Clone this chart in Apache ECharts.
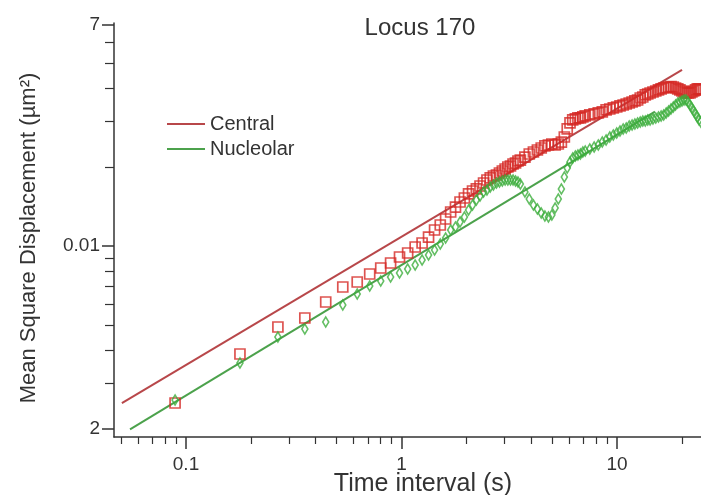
<!DOCTYPE html>
<html><head><meta charset="utf-8">
<script src="https://cdn.jsdelivr.net/npm/echarts@6/dist/echarts.min.js"></script>
<style>html,body{margin:0;padding:0;background:#fff}#c{width:701px;height:495px}</style>
</head><body><div id="c"></div>
<script>
// ---- data ----
const times = [0.089,0.178,0.267,0.356,0.445,0.534,0.623,0.712,0.801,0.890,0.979,1.068,1.157,1.246,1.335,1.424,1.513,1.602,1.691,1.780,1.869,1.958,2.047,2.136,2.225,2.314,2.403,2.492,2.581,2.670,2.759,2.848,2.937,3.026,3.115,3.204,3.293,3.382,3.471,3.560,
3.738,3.916,4.094,4.272,4.450,4.628,4.806,4.984,5.162,5.340,5.518,5.696,5.874,6.052,6.230,6.408,6.586,6.764,6.942,7.120,
7.476,7.832,8.188,8.544,8.900,9.256,9.612,9.968,10.324,10.680,11.036,11.392,11.748,12.104,12.460,12.816,13.172,13.528,13.884,14.240,
14.685,15.130,15.575,16.020,16.465,16.910,17.355,17.800,18.245,18.690,19.135,19.580,20.025,20.470,20.915,21.360,21.805,22.250,22.695,23.140,23.585,24.030,24.475];
const centralMSD = [0.002512,0.003866,0.004902,0.005306,0.006108,0.006972,0.007286,0.007816,0.008241,0.008610,0.009078,0.009402,0.009912,0.01027,0.01082,0.01151,0.01203,0.01268,0.01349,0.01409,0.01473,0.01526,0.01581,0.01623,0.01652,0.01696,0.01741,0.01788,0.01820,0.01852,0.01868,0.01901,0.01935,0.01969,0.02004,0.02022,0.02058,0.02076,0.02113,0.02131,
0.02188,0.02247,0.02287,0.02328,0.02369,0.02412,0.02433,0.02454,0.02433,0.02454,0.02497,0.02610,0.02801,0.02953,0.03032,0.03059,0.03086,0.03086,0.03113,0.03141,
0.03169,0.03197,0.03225,0.03253,0.03311,0.03340,0.03370,0.03399,0.03430,0.03459,0.03490,0.03521,0.03552,0.03584,0.03615,0.03679,0.03712,0.03778,0.03811,0.03845,
0.03879,0.03913,0.03948,0.03983,0.04018,0.04035,0.04053,0.04071,0.04053,0.04018,0.03983,0.03948,0.03913,0.03879,0.03845,0.03845,0.03845,0.03879,0.03913,0.03948,0.03983,0.03983,0.03948];
const nucleolarMSD = [0.002578,0.003570,0.004487,0.004817,0.005122,0.005949,0.006552,0.007034,0.007350,0.007613,0.007886,0.008168,0.008460,0.008841,0.009238,0.009654,0.01018,0.01073,0.01151,0.01182,0.01235,0.01291,0.01373,0.01434,0.01499,0.01553,0.01609,0.01637,0.01681,0.01711,0.01741,0.01756,0.01772,0.01788,0.01788,0.01788,0.01788,0.01772,0.01756,0.01726,
0.01609,0.01512,0.01434,0.01385,0.01337,0.01302,0.01291,0.01314,0.01397,0.01512,0.01652,0.01836,0.01987,0.02095,0.02170,0.02208,0.02228,0.02247,0.02287,0.02307,
0.02348,0.02390,0.02433,0.02497,0.02541,0.02610,0.02656,0.02704,0.02752,0.02801,0.02826,0.02876,0.02901,0.02926,0.02953,0.02979,0.03005,0.03005,0.03032,0.03032,
0.03059,0.03086,0.03113,0.03141,0.03169,0.03225,0.03282,0.03340,0.03399,0.03459,0.03521,0.03552,0.03584,0.03615,0.03615,0.03552,0.03459,0.03370,0.03282,0.03197,0.03113,0.03032,0.02979];
const centralFitT = [0.0504, 20.03];
const centralFitV = [0.002507, 0.0471];
const nucleolarFitT = [0.055, 15.0];
const nucleolarFitV = [0.00199, 0.03262];
const xMajorTicks = [0.1, 1, 10];
const xTickLabels = ['0.1', '1', '10'];
const xMinorTicks = [0.05,0.06,0.07,0.08,0.09,0.2,0.3,0.4,0.5,0.6,0.7,0.8,0.9,2,3,4,5,6,7,8,9,20];
const yMajorTicks = [0.07, 0.01, 0.002];
const yTickLabels = ['7', '0.01', '2'];
const yMinorTicks = [0.06,0.05,0.04,0.03,0.02,0.009,0.008,0.007,0.006,0.005,0.004,0.003];
const seriesNames = ['Central', 'Nucleolar'];
const titleText = 'Locus 170';
const xName = 'Time interval (s)';
const yName = 'Mean Square Displacement (\u00b5m\u00b2)';

// ---- chart ----
const FONT = '"Liberation Sans", Arial, Helvetica, sans-serif';
const TXT = '#333';
const X_MIN = 0.04634, X_MAX = 24.53, Y_MIN = 0.001862, Y_MAX = 0.07118;
function pick(vals, labels, v) {
  let best = 0, bd = Infinity;
  vals.forEach((t, i) => { const d = Math.abs(Math.log(v / t)); if (d < bd) { bd = d; best = i; } });
  return bd < 0.01 ? labels[best] : '';
}
const zip = (a, b) => a.map((v, i) => [v, b[i]]);
const baseX = {type: 'log', logBase: 10, min: X_MIN, max: X_MAX, gridIndex: 0, position: 'bottom', splitLine: {show: false}};
const baseY = {type: 'log', logBase: 10, min: Y_MIN, max: Y_MAX, gridIndex: 0, position: 'left', splitLine: {show: false}};
const chart = echarts.init(document.getElementById('c'), null, {renderer: 'canvas'});
chart.setOption({
  backgroundColor: '#fff',
  animation: false,
  title: {text: titleText, left: 420, top: 16, textAlign: 'center', padding: 0,
    textStyle: {fontFamily: FONT, fontSize: 24, fontWeight: 'normal', color: TXT}},
  legend: {data: seriesNames, orient: 'vertical', left: 167, top: 114, icon: 'rect', itemWidth: 38, itemHeight: 2, itemGap: 5,
    padding: 0, textStyle: {fontFamily: FONT, fontSize: 20, color: TXT}},
  grid: {left: 114, right: 0, top: 23, bottom: 58, containLabel: false, outerBoundsMode: 'none'},
  xAxis: [
    Object.assign({}, baseX, {
      name: xName, nameLocation: 'middle', nameGap: 35, nameMoveOverlap: false,
      nameTextStyle: {fontFamily: FONT, fontSize: 25, color: TXT, padding: [0, 0, 0, 31]},
      axisLine: {lineStyle: {color: '#333', width: 1.5}},
      axisTick: {customValues: xMajorTicks, length: 12, lineStyle: {color: '#333', width: 1.5}},
      axisLabel: {customValues: xMajorTicks, margin: 18, fontFamily: FONT, fontSize: 19, color: TXT,
        formatter: v => pick(xMajorTicks, xTickLabels, v)}
    }),
    Object.assign({}, baseX, {
      axisLine: {show: false},
      axisTick: {customValues: xMinorTicks, length: 7, lineStyle: {color: '#333', width: 1.2}},
      axisLabel: {show: false}
    })
  ],
  yAxis: [
    Object.assign({}, baseY, {
      name: yName, nameLocation: 'middle', nameGap: 74, nameMoveOverlap: false,
      nameTextStyle: {fontFamily: FONT, fontSize: 22, color: TXT, padding: [0, 16, 0, 0]},
      axisLine: {lineStyle: {color: '#333', width: 1.5}},
      axisTick: {customValues: yMajorTicks, length: 12, lineStyle: {color: '#333', width: 1.5}},
      axisLabel: {customValues: yMajorTicks, margin: 14, fontFamily: FONT, fontSize: 19, color: TXT,
        formatter: v => pick(yMajorTicks, yTickLabels, v)}
    }),
    Object.assign({}, baseY, {
      axisLine: {show: false},
      axisTick: {customValues: yMinorTicks, length: 9, lineStyle: {color: '#333', width: 1.2}},
      axisLabel: {show: false}
    })
  ],
  series: [
    {name: seriesNames[0], type: 'line', xAxisIndex: 0, yAxisIndex: 0, symbol: 'none', z: 2,
      lineStyle: {color: '#b8474a', width: 2}, itemStyle: {color: '#b8474a'},
      data: zip(centralFitT, centralFitV)},
    {name: seriesNames[1], type: 'line', xAxisIndex: 0, yAxisIndex: 0, symbol: 'none', z: 2,
      lineStyle: {color: '#4ca24c', width: 2}, itemStyle: {color: '#4ca24c'},
      data: zip(nucleolarFitT, nucleolarFitV)},
    {name: 'Central data', type: 'scatter', xAxisIndex: 0, yAxisIndex: 0, symbol: 'rect', symbolSize: 10, z: 3,
      itemStyle: {color: 'rgba(0,0,0,0)', borderColor: '#d42824', borderWidth: 1.7},
      data: zip(times, centralMSD)},
    {name: 'Nucleolar data', type: 'scatter', xAxisIndex: 0, yAxisIndex: 0, symbol: 'diamond', symbolSize: [6, 10], z: 4,
      itemStyle: {color: 'rgba(0,0,0,0)', borderColor: '#3cae3c', borderWidth: 1.7},
      data: zip(times, nucleolarMSD)}
  ]
});
</script></body></html>
